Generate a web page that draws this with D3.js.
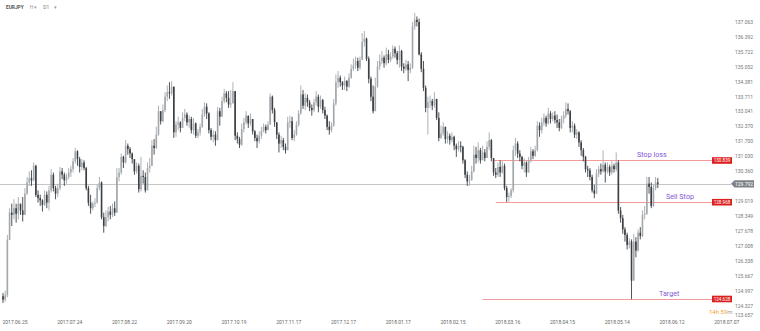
<!DOCTYPE html>
<html>
<head>
<meta charset="utf-8">
<script src="https://cdn.jsdelivr.net/npm/d3@7"></script>
<style>
  body { margin: 0; background: #fff; }
  svg { display: block; font-family: Roboto, "Liberation Sans", sans-serif; }
</style>
</head>
<body>
<script>
// EURJPY D1, one bar per trading day (index 0 = 2017.06.25)
const firstOpen = 124.75;
const closes = [
  124.60,124.80,127.28,128.50,128.40,128.70,128.45,128.90,128.60,128.40,
  129.35,129.85,130.05,129.95,130.60,129.30,129.15,129.05,128.85,129.30,
  128.95,129.50,130.20,129.60,129.35,129.60,130.35,130.20,129.95,130.10,
  130.30,130.45,130.80,131.25,130.90,130.55,130.75,130.50,129.60,128.95,
  128.70,128.90,128.95,129.60,129.85,128.30,127.90,128.30,128.55,128.40,
  128.70,128.50,130.10,130.30,131.00,130.75,131.50,131.35,131.15,130.90,
  130.35,130.60,129.55,130.15,130.10,129.50,130.50,130.60,131.50,131.40,
  132.00,133.05,132.60,133.10,133.70,133.90,133.85,134.15,132.10,132.45,
  132.55,132.30,132.75,132.90,132.55,132.70,132.20,132.50,131.95,132.10,
  132.35,132.90,133.25,132.95,132.20,131.90,132.00,131.75,133.05,132.80,
  133.50,133.85,133.65,133.35,133.40,133.95,131.95,131.80,131.55,132.25,
  132.55,132.85,132.50,132.70,132.15,131.85,131.70,131.95,132.15,132.35,
  132.20,132.45,133.70,133.10,132.55,132.00,131.60,131.75,131.45,131.30,
  132.55,132.60,131.85,132.00,132.45,132.95,133.80,133.30,133.65,133.45,
  133.20,133.10,133.45,133.70,133.25,133.55,133.10,132.85,132.35,132.20,
  132.40,133.40,134.35,134.55,134.35,134.20,134.40,134.15,134.55,134.95,
  135.10,135.30,135.00,135.35,136.15,136.30,135.40,134.50,133.70,133.05,
  134.15,135.05,135.30,135.45,135.20,135.60,135.35,135.50,135.85,135.65,
  135.35,135.75,135.05,134.95,135.15,134.90,135.00,136.85,137.15,137.05,
  135.60,134.95,134.10,133.20,133.45,133.50,133.30,133.60,132.75,131.85,
  132.05,132.35,131.80,131.95,131.75,131.90,131.50,131.35,131.50,131.45,
  130.85,130.20,129.90,129.95,130.35,131.10,130.95,131.30,130.85,131.20,
  130.95,131.45,131.75,130.95,130.30,130.20,130.55,130.30,130.60,129.60,
  129.20,129.25,129.50,131.30,131.60,131.15,131.00,130.60,130.75,130.30,
  130.85,131.25,131.05,131.30,132.40,132.20,132.55,132.75,132.50,132.95,
  132.70,132.85,132.65,132.55,132.30,132.70,132.85,133.15,133.05,132.30,
  132.40,132.00,132.10,131.65,131.30,131.00,130.45,130.40,130.10,129.50,
  129.35,130.25,130.45,130.35,130.65,130.35,130.55,130.30,130.60,130.45,
  130.75,128.60,128.25,127.75,127.50,127.05,127.20,125.45,127.20,126.80,
  127.60,127.45,128.40,128.45,129.80,129.65,128.80,129.60,129.85,129.79
];
const highs = [
  124.90,125.00,127.50,128.70,128.90,129.10,128.90,129.20,128.90,129.20,
  129.60,130.10,130.35,130.40,130.75,130.65,129.50,129.30,129.10,129.50,
  129.45,129.70,130.45,130.30,129.70,129.80,130.55,130.50,130.30,130.25,
  130.50,130.60,130.95,131.40,131.30,131.00,130.90,130.85,130.55,129.70,
  129.30,129.00,129.15,129.75,130.10,129.90,128.50,128.60,128.75,128.80,
  128.90,129.00,130.50,130.50,131.15,131.05,131.75,131.60,131.45,131.20,
  130.90,130.75,130.70,131.00,130.40,130.30,130.75,130.95,131.75,131.80,
  132.35,133.30,132.90,133.35,133.90,134.20,134.35,134.40,134.10,132.60,
  132.80,132.60,133.00,133.15,133.00,132.85,132.80,132.75,132.55,132.25,
  132.50,133.15,133.45,133.40,133.00,132.30,132.20,132.15,133.25,133.20,
  133.70,134.05,133.95,133.95,134.00,134.35,133.90,132.10,131.90,132.50,
  132.75,133.05,132.85,132.95,132.70,132.20,132.00,132.15,132.35,132.50,
  132.45,132.60,133.85,133.75,133.20,132.50,132.10,131.95,131.85,131.60,
  132.80,132.85,132.80,132.20,132.60,133.10,134.20,134.00,133.85,133.80,
  133.55,133.35,133.60,133.95,133.80,133.75,133.60,133.25,132.90,132.60,
  132.55,133.60,134.70,134.85,134.65,134.40,134.60,134.45,134.75,135.15,
  135.40,135.50,135.45,135.50,136.55,136.65,136.35,135.50,134.60,134.20,
  134.55,135.30,135.60,135.75,135.55,135.90,135.80,135.70,136.00,135.95,
  135.75,136.00,135.80,135.20,135.35,135.30,135.20,137.05,137.45,137.30,
  137.20,135.70,135.30,134.20,133.70,133.75,133.60,133.90,133.55,133.00,
  132.40,132.55,132.30,132.15,132.05,132.10,131.95,131.60,131.70,131.70,
  131.50,130.90,130.35,130.20,130.60,131.50,131.45,131.65,131.40,131.50,
  131.35,131.70,132.10,131.80,130.95,130.50,130.75,130.85,130.80,130.70,
  129.70,129.40,129.60,131.50,131.85,131.70,131.30,131.05,130.95,130.80,
  131.00,131.45,131.35,131.50,132.60,132.55,132.75,132.95,132.85,133.20,
  133.05,133.00,133.05,132.90,132.70,132.85,133.05,133.45,133.40,133.10,
  132.60,132.50,132.25,132.15,131.75,131.40,131.05,130.60,130.50,130.20,
  129.75,130.45,130.60,130.70,131.30,130.75,130.75,130.65,130.80,130.70,
  131.20,130.85,128.75,128.40,127.85,127.60,127.35,127.30,127.55,127.40,
  127.75,127.85,128.60,128.80,130.10,130.10,129.85,129.75,130.10,130.05
];
const lows = [
  124.45,124.50,124.70,127.40,127.90,128.20,128.05,128.20,128.40,128.10,
  128.40,129.30,129.70,129.70,129.90,129.20,128.95,128.80,128.55,128.80,
  128.70,128.60,129.40,129.45,129.10,129.20,129.50,130.00,129.70,129.80,
  130.00,130.10,130.30,130.70,130.60,130.30,130.40,130.40,129.50,128.80,
  128.45,128.60,128.75,128.90,129.50,128.20,127.60,127.85,128.10,128.20,
  128.30,128.35,128.55,129.90,130.20,130.50,130.70,131.10,130.95,130.70,
  130.20,130.25,129.40,129.45,129.80,129.40,129.55,130.30,130.60,131.10,
  131.35,131.95,132.45,132.55,133.00,133.50,133.60,133.75,131.85,131.90,
  132.20,132.10,132.35,132.60,132.40,132.30,132.05,132.00,131.85,131.85,
  131.95,132.30,132.80,132.70,132.05,131.75,131.65,131.50,131.80,132.40,
  132.80,133.40,133.45,133.20,133.20,133.45,131.75,131.60,131.40,131.50,
  132.10,132.45,132.30,132.40,132.00,131.70,131.40,131.60,131.80,132.10,
  132.05,132.20,132.45,132.95,132.35,131.80,131.20,131.40,131.30,131.15,
  131.35,132.30,131.75,131.70,131.95,132.35,132.90,133.15,133.10,133.25,
  133.05,132.85,133.00,133.30,133.00,133.15,132.95,132.70,132.20,132.00,
  132.10,132.35,133.30,134.10,134.15,134.00,134.00,133.95,134.10,134.50,
  134.85,134.95,134.85,134.90,135.35,135.95,135.30,134.30,133.50,132.95,
  133.10,134.10,134.90,135.15,135.00,135.10,135.20,135.25,135.40,135.45,
  135.15,135.00,134.85,134.75,134.85,134.40,134.75,134.95,136.70,136.85,
  135.55,134.80,133.95,133.00,132.00,133.20,133.10,133.20,132.65,131.70,
  131.80,131.95,131.60,131.60,131.55,131.65,131.30,131.00,131.25,131.20,
  130.70,130.05,129.70,129.70,129.95,130.30,130.70,130.75,130.70,130.90,
  130.80,130.95,131.30,130.80,130.15,130.05,130.10,130.10,130.25,129.50,
  128.98,129.00,129.15,129.40,131.05,130.95,130.80,130.45,130.30,130.10,
  130.30,130.75,130.90,131.00,131.25,131.90,132.05,132.40,132.35,132.45,
  132.50,132.60,132.50,132.30,132.15,132.25,132.50,132.75,132.90,132.10,
  132.10,131.85,131.80,131.45,131.05,130.80,130.30,130.10,129.95,129.40,
  129.15,129.45,130.10,130.20,130.30,129.85,130.25,130.15,130.20,130.30,
  130.35,128.45,128.05,127.55,127.20,126.85,126.90,124.62,125.60,126.50,
  126.75,127.30,127.40,128.20,128.40,129.35,128.70,128.75,129.50,129.60
];

const dateLabels = ['2017.06.25','2017.07.24','2017.08.22','2017.09.20','2017.10.19',
  '2017.11.17','2017.12.17','2018.01.17','2018.02.15','2018.03.16','2018.04.15',
  '2018.05.14','2018.06.12','2018.07.07'];
const dateEvery = 25; // bars between date labels
const priceLabels = ['137.063','136.392','135.722','135.052','134.381','133.711',
  '133.041','132.370','131.700','131.030','130.360','129.019','128.349','127.678',
  '127.008','126.338','125.667','124.997','124.327','123.657'];

const currentPrice = 129.792;
const orders = [
  { name: 'Stop loss', price: 130.839, tag: '130.839', from: 224 },
  { name: 'Sell Stop', price: 128.968, tag: '128.968', from: 225 },
  { name: 'Target', price: 124.628, tag: '124.628', from: 219 }
];

const W = 760, H = 331;
const svg = d3.select('body').append('svg')
  .attr('width', W)
  .attr('height', H);

const x = d3.scaleLinear().domain([0, 325]).range([3, 3 + 2.19 * 325]);
const y = d3.scaleLinear().domain([124.327, 137.063]).range([305.7, 21.7]);

const bars = closes.map((c, i) => ({
  i,
  open: i === 0 ? firstOpen : closes[i - 1],
  close: c,
  high: highs[i],
  low: lows[i]
}));

// current price line (behind candles)
svg.append('rect')
  .attr('x', 0).attr('width', 731)
  .attr('y', Math.round(y(currentPrice))).attr('height', 1)
  .attr('fill', '#c4c6c8');

// order lines, drawn as 1px rects
svg.append('g')
  .selectAll('rect')
  .data(orders)
  .join('rect')
  .attr('x', (d) => x(d.from))
  .attr('width', (d) => 712 - x(d.from))
  .attr('y', (d) => Math.round(y(d.price)))
  .attr('height', 1)
  .attr('fill', '#f59a9a');

const up = '#a3a8ad';
const down = '#3b4045';
const candle = svg.append('g').selectAll('g')
  .data(bars)
  .join('g')
  .attr('transform', (d) => `translate(${x(d.i)},0)`);

candle.append('line')
  .attr('y1', (d) => y(Math.max(d.high, d.open, d.close)))
  .attr('y2', (d) => y(Math.min(d.low, d.open, d.close)))
  .attr('stroke', (d) => (d.close >= d.open ? up : down))
  .attr('stroke-width', 0.9);

candle.append('rect')
  .attr('x', -0.8)
  .attr('width', 1.6)
  .attr('y', (d) => y(Math.max(d.open, d.close)))
  .attr('height', (d) => Math.max(0.6, Math.abs(y(d.open) - y(d.close))))
  .attr('fill', (d) => (d.close >= d.open ? up : down));

// order labels
const labelPos = { 'Stop loss': 637, 'Sell Stop': 666, 'Target': 659 };
svg.append('g').selectAll('text')
  .data(orders)
  .join('text')
  .attr('x', (d) => labelPos[d.name])
  .attr('y', (d) => y(d.price) - 3)
  .attr('font-size', 7.2)
  .attr('fill', '#8358d6')
  .text((d) => d.name);

// price axis
const yAxis = d3.axisRight(y)
  .tickValues(priceLabels.map(Number))
  .tickFormat((d, i) => priceLabels[i])
  .tickSize(0)
  .tickPadding(0);
const yAxisG = svg.append('g')
  .attr('transform', 'translate(735,0)')
  .call(yAxis);
yAxisG.select('.domain').remove();
yAxisG.selectAll('.tick line').remove();
yAxisG.selectAll('text')
  .attr('font-size', 5)
  .attr('fill', '#777')
  .attr('font-family', 'Roboto, sans-serif');
// last label is squeezed above the date row
yAxisG.selectAll('.tick')
  .filter((d) => d < 124)
  .attr('transform', 'translate(0,315)');

// time axis
const xAxis = d3.axisBottom(x)
  .tickValues(dateLabels.map((d, i) => i * dateEvery))
  .tickFormat((d, i) => dateLabels[i])
  .tickSize(0)
  .tickPadding(0);
const xAxisG = svg.append('g')
  .attr('transform', 'translate(-1,320.5)')
  .call(xAxis);
xAxisG.select('.domain').remove();
xAxisG.selectAll('.tick line').remove();
xAxisG.selectAll('text')
  .attr('text-anchor', 'start')
  .attr('font-size', 5)
  .attr('fill', '#666')
  .attr('font-family', 'Roboto, sans-serif');

// order tags
const tags = svg.append('g').selectAll('g')
  .data(orders)
  .join('g')
  .attr('transform', (d) => `translate(712,${y(d.price)})`);
tags.append('rect')
  .attr('x', 0).attr('y', -3.3)
  .attr('width', 20).attr('height', 6.6)
  .attr('fill', '#de1f1f');
tags.append('text')
  .attr('x', 10).attr('dy', '0.35em')
  .attr('text-anchor', 'middle')
  .attr('font-size', 4.6)
  .attr('fill', '#fff')
  .text((d) => d.tag);

// current price tag
const cy = y(currentPrice);
svg.append('path')
  .attr('d', `M731,${cy} L734.5,${cy - 3.6} L754,${cy - 3.6} L754,${cy + 3.6} L734.5,${cy + 3.6} Z`)
  .attr('fill', '#7c8288');
svg.append('text')
  .attr('x', 744).attr('y', cy).attr('dy', '0.35em')
  .attr('text-anchor', 'middle')
  .attr('font-size', 5)
  .attr('fill', '#fff')
  .text(currentPrice.toFixed(3));

// bar countdown
const timer = svg.append('text')
  .attr('x', 709).attr('y', 314)
  .attr('font-size', 6);
timer.append('tspan').attr('fill', '#f0a12e').text('14h ');
timer.append('tspan').attr('fill', '#f0a12e').text('59');
timer.append('tspan').attr('fill', '#999').text('m');

// symbol header
const head = svg.append('text')
  .attr('x', 6).attr('y', 9)
  .attr('font-size', 4.8)
  .attr('fill', '#555');
head.append('tspan').attr('font-weight', 'bold').text('EURJPY');
head.append('tspan').attr('dx', 6).attr('fill', '#999').text('H  ▾');
head.append('tspan').attr('dx', 6).attr('fill', '#777').text('D1');
head.append('tspan').attr('dx', 5).attr('fill', '#999').text('▾');
</script>
</body>
</html>
